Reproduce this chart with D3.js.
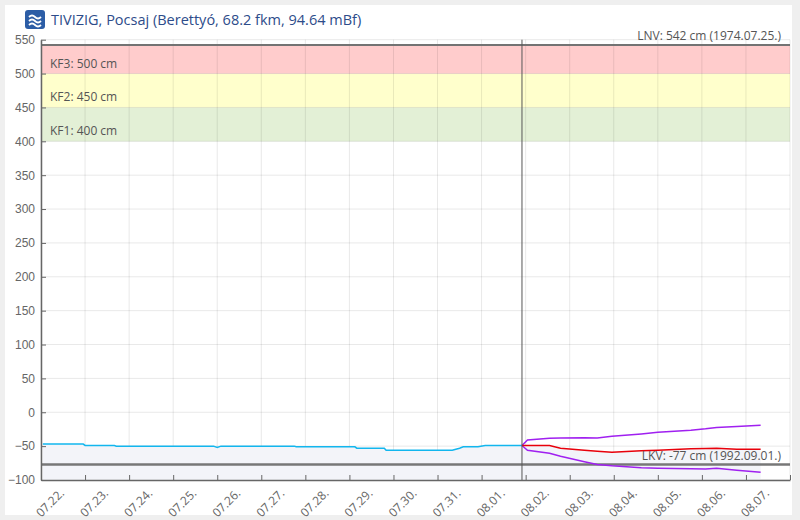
<!DOCTYPE html>
<html>
<head>
<meta charset="utf-8">
<script src="https://cdn.jsdelivr.net/npm/d3@7"></script>
<style>
  html, body { margin: 0; padding: 0; background: #efefef; }
  svg { display: block; font-family: "Open Sans", "Noto Sans", sans-serif; }
  .axis path, .axis line { stroke: #666; }
  .axis text { fill: #666; font-size: 12px; }
</style>
</head>
<body>
<svg id="chart" width="800" height="520"></svg>
<script>
// Data
var TITLE = 'TIVIZIG, Pocsaj (Berettyó, 68.2 fkm, 94.64 mBf)';
var DAY_START = '2021-07-22 00:00';
var DAY_END = '2021-08-08 00:00';
var NOW = '2021-08-01 22:00';
var Y_TICKS = [-100, -50, 0, 50, 100, 150, 200, 250, 300, 350, 400, 450, 500, 550];

// alert levels
var BAND_NAMES = ['KF1: 400 cm', 'KF2: 450 cm', 'KF3: 500 cm'];
var BAND_FROM = [400, 450, 500];
var BAND_TO = [450, 500, 542];
var BAND_COLORS = ['#e3f0d6', '#ffffcc', '#ffcccc'];

// record levels
var LNV = 542, LNV_LABEL = 'LNV: 542 cm (1974.07.25.)';
var LKV = -77, LKV_LABEL = 'LKV: -77 cm (1992.09.01.)';

// measured water level
var obsTimes = ['2021-07-22 01:00', '2021-07-22 23:00', '2021-07-23 00:00', '2021-07-23 16:00',
  '2021-07-23 17:00', '2021-07-25 22:00', '2021-07-26 00:00', '2021-07-26 02:00',
  '2021-07-27 18:00', '2021-07-27 19:00', '2021-07-29 03:00', '2021-07-29 04:00',
  '2021-07-29 19:00', '2021-07-29 20:00', '2021-07-31 08:00', '2021-07-31 12:00',
  '2021-07-31 14:00', '2021-07-31 22:00', '2021-08-01 02:00', '2021-08-01 22:00'];
var obsValues = [-47, -47, -49, -49, -50, -50, -52, -50, -50, -51, -51, -53,
  -53, -56, -56, -53, -51, -51, -49, -49];

// forecast (median, upper and lower)
var fcTimes = ['2021-08-01 22:00', '2021-08-02 01:00', '2021-08-02 13:00', '2021-08-02 19:00',
  '2021-08-03 08:00', '2021-08-03 15:00', '2021-08-03 23:00', '2021-08-04 15:00',
  '2021-08-05 00:00', '2021-08-05 18:00', '2021-08-06 02:00', '2021-08-06 08:00',
  '2021-08-06 19:00', '2021-08-07 08:00'];
var fcValues = [-49, -49, -49, -53, -56, -57.5, -59, -57, -56, -54, -53.5, -53, -54.5, -54.5];
var fcUpper = [-49, -41, -38.5, -38, -37.5, -38, -35.5, -32, -29.5, -26.5, -24.5, -22.5, -21, -19];
var fcLower = [-49, -56, -60.5, -65, -73, -77, -79, -82, -82.5, -83.5, -83.7, -82.7, -85.5, -88.6];

// Layout
var plot = {left: 41, right: 790, top: 39.7, bottom: 480};
var parse = d3.timeParse('%Y-%m-%d %H:%M');

var svg = d3.select('#chart');

svg.append('rect')
  .attr('x', 5).attr('y', 5).attr('width', 787).attr('height', 510)
  .attr('fill', '#fff');

var xScale = d3.scaleTime()
  .domain([parse(DAY_START), parse(DAY_END)])
  .range([plot.left, plot.right]);

var yScale = d3.scaleLinear()
  .domain([-100, 550])
  .range([plot.bottom, plot.top]);

// Title with the little logo
var logo = svg.append('g').attr('transform', 'translate(25,10)');
logo.append('rect').attr('width', 20).attr('height', 19).attr('rx', 3).attr('fill', '#2c5da6');
logo.append('path')
  .attr('d', 'M4,7 q3,-3 6,0 t6,0 M4,11 q3,-3 6,0 t6,0 M4,15 q3,-3 6,0 t6,0')
  .attr('fill', 'none').attr('stroke', '#fff').attr('stroke-width', 1.8);

svg.append('text')
  .attr('x', 51).attr('y', 25)
  .attr('fill', '#2d4c8a')
  .style('font-size', '14.5px')
  .text(TITLE);

// Alert bands
var bands = BAND_NAMES.map(function(name, i) {
  return {name: name, from: BAND_FROM[i], to: BAND_TO[i], color: BAND_COLORS[i]};
});
svg.selectAll('.band')
  .data(bands)
  .enter().append('rect')
  .attr('class', 'band')
  .attr('x', plot.left)
  .attr('width', plot.right - plot.left)
  .attr('y', function(d) { return yScale(d.to); })
  .attr('height', function(d) { return yScale(d.from) - yScale(d.to); })
  .attr('fill', function(d) { return d.color; });

// Grid
var dayTicks = d3.timeDay.range(parse(DAY_START), d3.timeHour.offset(parse(DAY_END), 1));
svg.append('g').selectAll('line')
  .data(dayTicks)
  .enter().append('line')
  .attr('x1', function(d) { return xScale(d); })
  .attr('x2', function(d) { return xScale(d); })
  .attr('y1', plot.top).attr('y2', plot.bottom)
  .attr('stroke', 'rgba(0,0,0,0.09)');
svg.append('g').selectAll('line')
  .data(Y_TICKS)
  .enter().append('line')
  .attr('x1', plot.left).attr('x2', plot.right)
  .attr('y1', function(d) { return yScale(d); })
  .attr('y2', function(d) { return yScale(d); })
  .attr('stroke', 'rgba(0,0,0,0.09)');

// labels sit a bit above the lower edge of each band
svg.selectAll('.bandLabel')
  .data(bands)
  .enter().append('text')
  .attr('x', 50)
  .attr('y', function(d) { return yScale(d.from) - 6; })
  .attr('fill', '#555')
  .style('font-size', '12px')
  .text(function(d) { return d.name; });

// Series
var obs = obsTimes.map(function(t, i) { return {t: parse(t), v: obsValues[i]}; });
var fc = fcTimes.map(function(t, i) {
  return {t: parse(t), v: fcValues[i], hi: fcUpper[i], lo: fcLower[i]};
});

var area = d3.area()
  .x(function(d) { return xScale(d.t); })
  .y0(yScale(-100))
  .y1(function(d) { return yScale(d.v); });

svg.append('path')
  .datum(obs.concat(fc.slice(1)))
  .attr('fill', '#f3f4f9')
  .attr('d', area);

// record lines
svg.append('line')
  .attr('x1', plot.left).attr('x2', plot.right)
  .attr('y1', yScale(LNV)).attr('y2', yScale(LNV))
  .attr('stroke', '#737373').attr('stroke-width', 2);
svg.append('line')
  .attr('x1', plot.left).attr('x2', plot.right)
  .attr('y1', yScale(LKV)).attr('y2', yScale(LKV))
  .attr('stroke', '#777').attr('stroke-width', 2.5);

var line = d3.line()
  .x(function(d) { return xScale(d.t); })
  .y(function(d) { return yScale(d.v); });

svg.append('path').datum(obs)
  .attr('fill', 'none').attr('stroke', '#12b6ee').attr('stroke-width', 1.5)
  .attr('d', line);

svg.append('path').datum(fc)
  .attr('fill', 'none').attr('stroke', '#a020f0').attr('stroke-width', 1.5)
  .attr('d', line.y(function(d) { return yScale(d.hi); }));
svg.append('path').datum(fc)
  .attr('fill', 'none').attr('stroke', '#a020f0').attr('stroke-width', 1.5)
  .attr('d', line.y(function(d) { return yScale(d.lo); }));
svg.append('path').datum(fc)
  .attr('fill', 'none').attr('stroke', '#e8000b').attr('stroke-width', 1.5)
  .attr('d', line.y(function(d) { return yScale(d.v); }));

// record labels
svg.append('text')
  .attr('x', 781).attr('y', yScale(LNV) - 5)
  .attr('text-anchor', 'end').attr('fill', '#555')
  .style('font-size', '12px')
  .text(LNV_LABEL);
svg.append('text')
  .attr('x', 781).attr('y', yScale(LKV) - 4.5)
  .attr('text-anchor', 'end').attr('fill', '#555')
  .style('font-size', '12px')
  .text(LKV_LABEL);

// "now" line
svg.append('line')
  .attr('x1', xScale(parse(NOW))).attr('x2', xScale(parse(NOW)))
  .attr('y1', plot.top).attr('y2', plot.bottom)
  .attr('stroke', '#555').attr('stroke-width', 1);

// Axes
svg.append('g')
  .attr('class', 'axis')
  .attr('transform', 'translate(' + plot.left + ',0)')
  .call(d3.axisLeft(yScale).tickValues(Y_TICKS).tickSizeInner(-5).tickSizeOuter(0).tickPadding(6))
  .call(function(g) { g.select('.domain').attr('stroke-width', 1.5); });

svg.append('g')
  .attr('class', 'axis')
  .attr('transform', 'translate(0,' + plot.bottom + ')')
  .call(d3.axisBottom(xScale).tickValues(dayTicks).tickSizeInner(-5).tickSizeOuter(0).tickFormat(''))
  .call(function(g) { g.select('.domain').attr('stroke-width', 1.5); });

// day labels sit at noon, rotated
var fmt = d3.timeFormat('%m.%d.');
svg.append('g').selectAll('text')
  .data(dayTicks.slice(0, -1))
  .enter().append('text')
  .attr('transform', function(d) {
    return 'translate(' + (xScale(d3.timeHour.offset(d, 12)) + 2) + ',494) rotate(-45)';
  })
  .attr('text-anchor', 'end')
  .attr('fill', '#666')
  .style('font-size', '12px')
  .text(function(d) { return fmt(d); });
</script>
</body>
</html>
